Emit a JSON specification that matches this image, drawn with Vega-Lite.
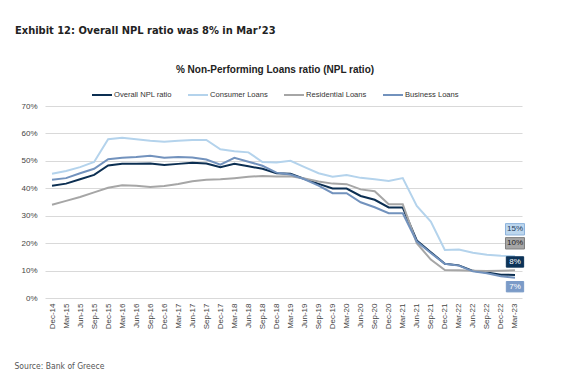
{
  "$schema": "https://vega.github.io/schema/vega-lite/v6.json",
  "autosize": "none",
  "width": 481,
  "height": 192,
  "padding": {"left": 45, "top": 106, "right": 41, "bottom": 78},
  "background": "white",
  "title": {
    "text": "Exhibit 12: Overall NPL ratio was 8% in Mar’23",
    "anchor": "start",
    "frame": "group",
    "dx": -30,
    "offset": 29,
    "font": "Liberation Sans Narrow, DejaVu Sans Condensed, Liberation Sans",
    "fontSize": 11,
    "fontWeight": "bold",
    "color": "#222222"
  },
  "data": {
    "values": [
      {"q": "Dec-14", "Overall NPL ratio": 40.9, "Consumer Loans": 45.3, "Residential Loans": 34.0, "Business Loans": 43.1},
      {"q": "Mar-15", "Overall NPL ratio": 41.7, "Consumer Loans": 46.3, "Residential Loans": 35.4, "Business Loans": 43.7},
      {"q": "Jun-15", "Overall NPL ratio": 43.3, "Consumer Loans": 47.7, "Residential Loans": 36.8, "Business Loans": 45.5},
      {"q": "Sep-15", "Overall NPL ratio": 44.9, "Consumer Loans": 49.6, "Residential Loans": 38.5, "Business Loans": 47.1},
      {"q": "Dec-15", "Overall NPL ratio": 48.3, "Consumer Loans": 57.9, "Residential Loans": 40.2, "Business Loans": 50.6},
      {"q": "Mar-16", "Overall NPL ratio": 48.9, "Consumer Loans": 58.4, "Residential Loans": 41.1, "Business Loans": 51.1},
      {"q": "Jun-16", "Overall NPL ratio": 48.9, "Consumer Loans": 57.9, "Residential Loans": 40.9, "Business Loans": 51.4},
      {"q": "Sep-16", "Overall NPL ratio": 49.0, "Consumer Loans": 57.3, "Residential Loans": 40.5, "Business Loans": 51.9},
      {"q": "Dec-16", "Overall NPL ratio": 48.5, "Consumer Loans": 57.0, "Residential Loans": 40.8, "Business Loans": 51.1},
      {"q": "Mar-17", "Overall NPL ratio": 48.9, "Consumer Loans": 57.3, "Residential Loans": 41.6, "Business Loans": 51.4},
      {"q": "Jun-17", "Overall NPL ratio": 49.3, "Consumer Loans": 57.6, "Residential Loans": 42.6, "Business Loans": 51.2},
      {"q": "Sep-17", "Overall NPL ratio": 49.0, "Consumer Loans": 57.6, "Residential Loans": 43.1, "Business Loans": 50.5},
      {"q": "Dec-17", "Overall NPL ratio": 47.7, "Consumer Loans": 54.2, "Residential Loans": 43.3, "Business Loans": 48.6},
      {"q": "Mar-18", "Overall NPL ratio": 48.9, "Consumer Loans": 53.5, "Residential Loans": 43.7, "Business Loans": 51.1},
      {"q": "Jun-18", "Overall NPL ratio": 48.0, "Consumer Loans": 53.1, "Residential Loans": 44.2, "Business Loans": 49.7},
      {"q": "Sep-18", "Overall NPL ratio": 47.1, "Consumer Loans": 49.6, "Residential Loans": 44.5, "Business Loans": 48.2},
      {"q": "Dec-18", "Overall NPL ratio": 45.5, "Consumer Loans": 49.4, "Residential Loans": 44.3, "Business Loans": 45.7},
      {"q": "Mar-19", "Overall NPL ratio": 45.3, "Consumer Loans": 50.0, "Residential Loans": 44.4, "Business Loans": 45.0},
      {"q": "Jun-19", "Overall NPL ratio": 43.4, "Consumer Loans": 47.7, "Residential Loans": 43.6, "Business Loans": 43.3},
      {"q": "Sep-19", "Overall NPL ratio": 41.6, "Consumer Loans": 45.5, "Residential Loans": 42.5, "Business Loans": 41.0},
      {"q": "Dec-19", "Overall NPL ratio": 39.9, "Consumer Loans": 44.2, "Residential Loans": 41.7, "Business Loans": 38.2},
      {"q": "Mar-20", "Overall NPL ratio": 39.9, "Consumer Loans": 44.8, "Residential Loans": 41.5, "Business Loans": 38.2},
      {"q": "Jun-20", "Overall NPL ratio": 37.2, "Consumer Loans": 43.8, "Residential Loans": 39.6, "Business Loans": 34.9},
      {"q": "Sep-20", "Overall NPL ratio": 35.8, "Consumer Loans": 43.3, "Residential Loans": 38.9, "Business Loans": 33.1},
      {"q": "Dec-20", "Overall NPL ratio": 33.0, "Consumer Loans": 42.7, "Residential Loans": 34.2, "Business Loans": 30.9},
      {"q": "Mar-21", "Overall NPL ratio": 33.0, "Consumer Loans": 43.7, "Residential Loans": 34.2, "Business Loans": 30.9},
      {"q": "Jun-21", "Overall NPL ratio": 21.0, "Consumer Loans": 33.6, "Residential Loans": 20.0, "Business Loans": 20.6},
      {"q": "Sep-21", "Overall NPL ratio": 16.7, "Consumer Loans": 27.9, "Residential Loans": 14.0, "Business Loans": 16.4},
      {"q": "Dec-21", "Overall NPL ratio": 12.5, "Consumer Loans": 17.5, "Residential Loans": 10.2, "Business Loans": 12.5},
      {"q": "Mar-22", "Overall NPL ratio": 11.9, "Consumer Loans": 17.7, "Residential Loans": 10.1, "Business Loans": 11.8},
      {"q": "Jun-22", "Overall NPL ratio": 9.9, "Consumer Loans": 16.5, "Residential Loans": 9.9, "Business Loans": 9.7},
      {"q": "Sep-22", "Overall NPL ratio": 9.3, "Consumer Loans": 15.8, "Residential Loans": 9.8, "Business Loans": 9.0},
      {"q": "Dec-22", "Overall NPL ratio": 8.5, "Consumer Loans": 15.4, "Residential Loans": 9.9, "Business Loans": 7.9},
      {"q": "Mar-23", "Overall NPL ratio": 8.4, "Consumer Loans": 15.2, "Residential Loans": 10.1, "Business Loans": 7.4}
    ]
  },
  "transform": [
    {"fold": ["Overall NPL ratio", "Consumer Loans", "Residential Loans", "Business Loans"], "as": ["s", "v"]},
    {"calculate": "round(datum.v) + '%'", "as": "lbl"}
  ],
  "encoding": {
    "x": {
      "field": "q",
      "type": "ordinal",
      "sort": null,
      "scale": {"type": "point", "range": [0, 477]},
      "axis": {
        "title": "Source: Bank of Greece",
        "titleAnchor": "start",
        "titleX": -31,
        "titleY": 70,
        "titleFont": "Liberation Sans Narrow, DejaVu Sans Condensed, Liberation Sans",
        "titleFontSize": 8.5,
        "titleFontWeight": "normal",
        "titleColor": "#555555",
        "titleBaseline": "alphabetic",
        "labelAngle": -90,
        "labelAlign": "right",
        "labelBaseline": "middle",
        "labelFont": "Liberation Sans",
        "labelFontSize": 8,
        "labelColor": "#444444",
        "labelPadding": 5,
        "domain": false,
        "ticks": false,
        "grid": false
      }
    },
    "y": {
      "field": "v",
      "type": "quantitative",
      "scale": {"domain": [0, 70]},
      "axis": {
        "title": null,
        "values": [0, 10, 20, 30, 40, 50, 60, 70],
        "labelExpr": "datum.value + '%'",
        "labelFont": "Liberation Sans",
        "labelFontSize": 8,
        "labelColor": "#444444",
        "labelPadding": 8,
        "domain": false,
        "ticks": false,
        "grid": true,
        "gridColor": "#d9d9d9",
        "gridWidth": 1
      }
    }
  },
  "layer": [
    {
      "mark": {"type": "line", "strokeWidth": 2},
      "encoding": {
        "color": {
          "field": "s",
          "type": "nominal",
          "scale": {
            "domain": ["Overall NPL ratio", "Consumer Loans", "Residential Loans", "Business Loans"],
            "range": ["#0c2f52", "#b4d3ec", "#a6a6a6", "#7292bd"]
          },
          "legend": {
            "title": "% Non-Performing Loans ratio (NPL ratio)",
            "orient": "none",
            "legendX": 46,
            "legendY": -41,
            "direction": "horizontal",
            "columns": 4,
            "gridAlign": "none",
            "titleAnchor": "middle",
            "titleLimit": 500,
            "titleFont": "Liberation Sans",
            "titleFontSize": 10,
            "titleFontWeight": "bold",
            "titleColor": "#222222",
            "titlePadding": 9,
            "labelFont": "Liberation Sans",
            "labelFontSize": 7.6,
            "labelColor": "#333333",
            "labelOffset": 1,
            "symbolType": "stroke",
            "symbolSize": 400,
            "symbolStrokeWidth": 2,
            "columnPadding": 12
          }
        }
      }
    },
    {
      "transform": [{"filter": "datum.q == 'Mar-23' && datum.s == 'Consumer Loans'"}],
      "layer": [
        {"mark": {"type": "point", "shape": "M-1,-0.6H1V0.6H-1Z", "size": 361, "filled": true, "fill": "#bdd7ee", "stroke": "#8db3dc", "strokeWidth": 1, "opacity": 1, "yOffset": -27}},
        {"mark": {"type": "text", "font": "Liberation Sans", "fontSize": 8, "color": "#1f3b5a", "yOffset": -27, "baseline": "middle"}, "encoding": {"text": {"field": "lbl"}}}
      ]
    },
    {
      "transform": [{"filter": "datum.q == 'Mar-23' && datum.s == 'Residential Loans'"}],
      "layer": [
        {"mark": {"type": "point", "shape": "M-1,-0.6H1V0.6H-1Z", "size": 361, "filled": true, "fill": "#a6a6a6", "stroke": "#7f7f7f", "strokeWidth": 1, "opacity": 1, "yOffset": -27}},
        {"mark": {"type": "text", "font": "Liberation Sans", "fontSize": 8, "color": "#222222", "yOffset": -27, "baseline": "middle"}, "encoding": {"text": {"field": "lbl"}}}
      ]
    },
    {
      "transform": [{"filter": "datum.q == 'Mar-23' && datum.s == 'Overall NPL ratio'"}],
      "layer": [
        {"mark": {"type": "point", "shape": "M-1,-0.6H1V0.6H-1Z", "size": 300, "filled": true, "fill": "#0c3358", "stroke": "#0c3358", "strokeWidth": 1, "opacity": 1, "yOffset": -13}},
        {"mark": {"type": "text", "font": "Liberation Sans", "fontSize": 8, "color": "#ffffff", "yOffset": -13, "baseline": "middle"}, "encoding": {"text": {"field": "lbl"}}}
      ]
    },
    {
      "transform": [{"filter": "datum.q == 'Mar-23' && datum.s == 'Business Loans'"}],
      "layer": [
        {"mark": {"type": "point", "shape": "M-1,-0.6H1V0.6H-1Z", "size": 300, "filled": true, "fill": "#7b9bc8", "stroke": "#7b9bc8", "strokeWidth": 1, "opacity": 1, "yOffset": 9}},
        {"mark": {"type": "text", "font": "Liberation Sans", "fontSize": 8, "color": "#ffffff", "yOffset": 9, "baseline": "middle"}, "encoding": {"text": {"field": "lbl"}}}
      ]
    }
  ],
  "config": {"view": {"stroke": null}}
}
